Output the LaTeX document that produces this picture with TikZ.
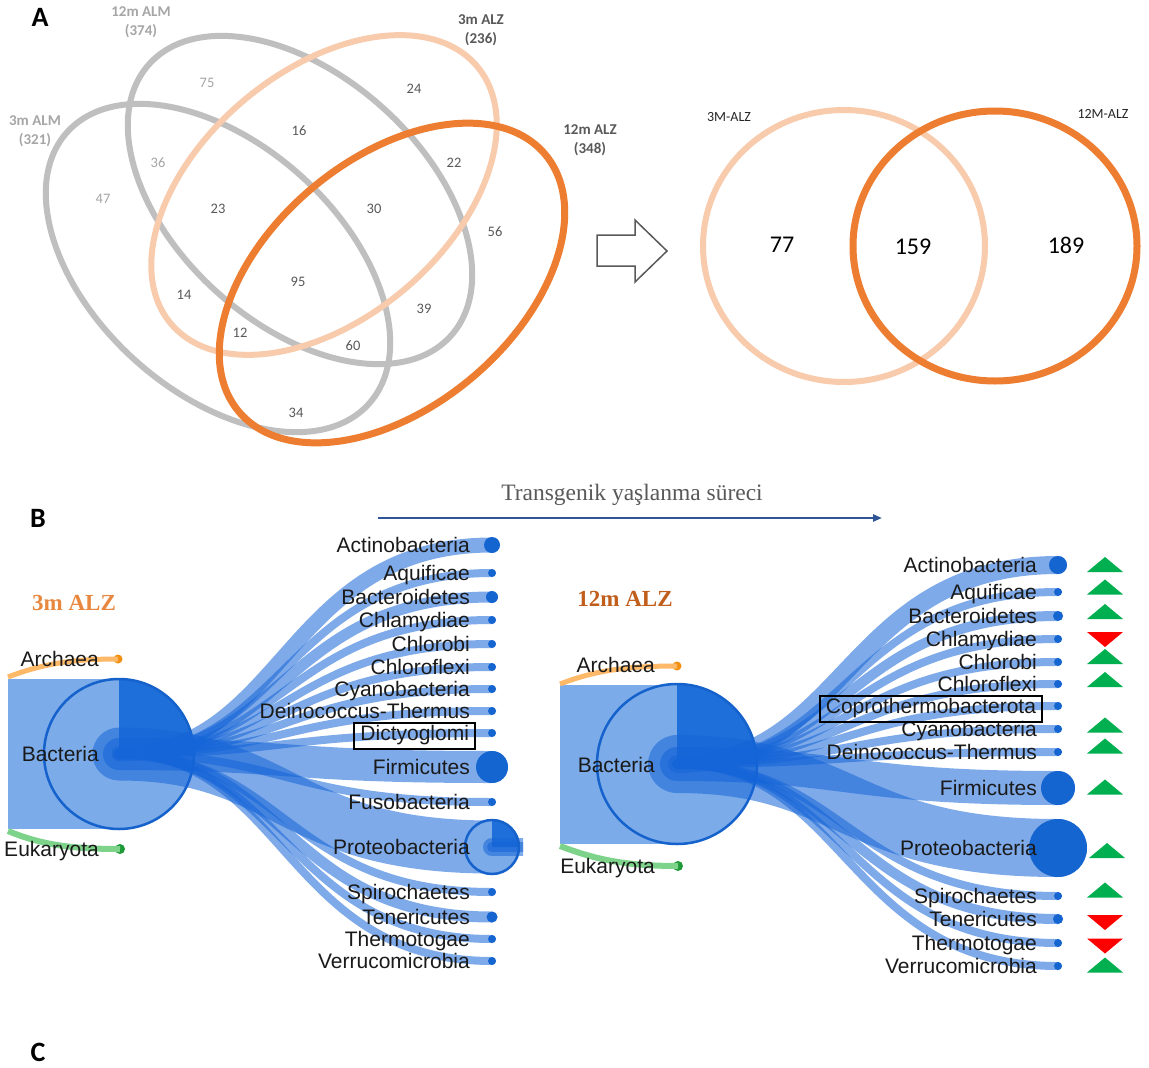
\documentclass[tikz,border=0pt]{standalone}
\usepackage{fontspec}
\setmainfont{Liberation Sans}
\newfontfamily\calfont{Carlito}
\newfontfamily\serfont{Liberation Serif}
\usetikzlibrary{arrows.meta}

\definecolor{ellgray}{HTML}{BFBFBF}
\definecolor{lightorange}{HTML}{F8CBAD}
\definecolor{darkorange}{HTML}{ED7D31}
\definecolor{numdark}{HTML}{595959}
\definecolor{numlight}{HTML}{A6A6A6}
\definecolor{linkblue}{HTML}{1565D8}
\definecolor{bandblue}{HTML}{7BABE9}
\definecolor{quartblue}{HTML}{1E6FD9}
\definecolor{rimblue}{HTML}{1562CC}
\definecolor{dotblue}{HTML}{1565D0}
\definecolor{archband}{HTML}{FDB868}
\definecolor{archfill}{HTML}{F39012}
\definecolor{eukband}{HTML}{7ED38A}
\definecolor{eukfill}{HTML}{1F9A38}
\definecolor{upgreen}{HTML}{00B050}
\definecolor{downred}{HTML}{FF0000}
\definecolor{arrowblue}{HTML}{2F5597}
\definecolor{titlegray}{HTML}{595959}
\definecolor{threeorange}{HTML}{E8873F}
\definecolor{twelveorange}{HTML}{C25E1B}
\definecolor{taxtext}{HTML}{1A1A1A}

% leaves of the 3-month tree: name/y/band width
\def\leavesL{aL/545/15, qL/573/8, bL/597/11, chL/620/8, coL/644/8, cfL/667/8,
  cyL/689/8, deL/711/8, diL/733/8, fiL/767/32, fuL/802/8, prL/847/53,
  spL/892/8, teL/917/11, thL/939/8, veL/961/8}
\def\dotsL{aL/16, qL/8, bL/12, chL/8, coL/8, cfL/8, cyL/8, deL/8, diL/8,
  fiL/32, fuL/8, spL/8, teL/11, thL/8, veL/8}
\def\labelsL{aL/Actinobacteria, qL/Aquificae, bL/Bacteroidetes, chL/Chlamydiae,
  coL/Chlorobi, cfL/Chloroflexi, cyL/Cyanobacteria, deL/Deinococcus-Thermus,
  fiL/Firmicutes, fuL/Fusobacteria, prL/Proteobacteria, spL/Spirochaetes,
  teL/Tenericutes, thL/Thermotogae, veL/Verrucomicrobia}

% leaves of the 12-month tree
\def\leavesR{aR/565/18, qR/592/8, bR/616/10, chR/639/8, coR/662/8, cfR/684/8,
  cpR/706/8, cyR/729/8, deR/752/8, fiR/788/34, prR/848/58, spR/896/8,
  teR/919/10, thR/943/8, veR/966/8}
\def\dotsR{aR/18, qR/8, bR/10, chR/8, coR/8, cfR/8, cpR/8, cyR/8, deR/8,
  fiR/34, prR/58, spR/8, teR/10, thR/8, veR/8}
\def\labelsR{aR/Actinobacteria, qR/Aquificae, bR/Bacteroidetes, chR/Chlamydiae,
  coR/Chlorobi, cfR/Chloroflexi, cyR/Cyanobacteria, deR/Deinococcus-Thermus,
  fiR/Firmicutes, prR/Proteobacteria, spR/Spirochaetes, teR/Tenericutes,
  thR/Thermotogae, veR/Verrucomicrobia}

\begin{document}
\begin{tikzpicture}[x=1pt, y=-1pt,
  vgray/.style={draw=ellgray, line width=6pt},
  vlight/.style={draw=lightorange, line width=6pt},
  vdark/.style={draw=darkorange, line width=7pt},
  vnum/.style={font=\calfont\fontsize{14.5}{16}\selectfont, text=numdark, inner sep=0},
  vnumlt/.style={vnum, text=numlight},
  vset/.style={font=\calfont\bfseries\fontsize{15}{19}\selectfont, align=center, inner sep=0},
  vbig/.style={font=\calfont\fontsize{24}{26}\selectfont, text=black, inner sep=0},
  vsmall/.style={font=\calfont\fontsize{14}{16}\selectfont, text=black!85, inner sep=0},
  panel/.style={font=\calfont\bfseries\fontsize{28}{30}\selectfont, inner sep=0},
  blockarrow/.style={draw=numdark, line width=1.5pt, fill=white, line join=miter},
  taxon/.style={font=\fontsize{21}{24}\selectfont, text=taxtext, anchor=base east,
    yshift=-7.5pt, inner sep=0, text height=15pt, text depth=0pt},
  boxed/.style={draw=black, line width=2pt, inner xsep=6pt, inner ysep=3pt,
    text height=15pt, text depth=5pt},
  grouptitle/.style={font=\serfont\bfseries\fontsize{23}{25}\selectfont, inner sep=0},
  link/.style={draw=linkblue, draw opacity=0.55, line cap=round},
  bactcirc/.style={circle, fill=bandblue, inner sep=0, outer sep=0},
  rim/.style={draw=rimblue, line width=2.5pt},
  leafdot/.style={circle, fill=dotblue, inner sep=0, outer sep=0},
  archdot/.style={circle, fill=archfill, minimum size=9pt, inner sep=0, outer sep=0},
  eukdot/.style={circle, fill=eukfill, minimum size=10pt, inner sep=0, outer sep=0},
  archlink/.style={draw=archband, line width=5pt},
  euklink/.style={draw=eukband, line width=6pt},
  triup/.style={fill=upgreen},
  tridown/.style={fill=downred}]

\useasboundingbox (0,0) rectangle (1149,1068);
\fill[white] (0,0) rectangle (1149,1068);

% ---------- panel letters ----------
\node[panel] (pA) at (40,17) {A};
\node[panel] (pB) at (38,518) {B};
\node[panel] (pC) at (38,1052) {C};

% ---------- four-set Venn diagram ----------
\draw[vgray, rotate around={-42:(218,268)}] (218,268) ellipse [x radius=203, y radius=124];
\draw[vgray, rotate around={-42:(300,200)}] (300,200) ellipse [x radius=203, y radius=124];
\draw[vlight, rotate around={40:(324,195)}] (324,195) ellipse [x radius=200, y radius=124];
\draw[vdark, rotate around={40:(392,283)}] (392,283) ellipse [x radius=200, y radius=124];

\node[vset, text=numlight] (s12alm) at (141,22.5) {12m ALM\\(374)};
\node[vset, text=numlight] (s3alm) at (35,131.5) {3m ALM\\(321)};
\node[vset, text=numdark] (s3alz) at (481,30.5) {3m ALZ\\(236)};
\node[vset, text=numdark] (s12alz) at (590,140.5) {12m ALZ\\(348)};

\node[vnumlt] (n75) at (207,83) {75};
\node[vnum] (n24) at (414,89) {24};
\node[vnum] (n16) at (299,131) {16};
\node[vnumlt] (n36) at (158,163) {36};
\node[vnum] (n22) at (454,163) {22};
\node[vnumlt] (n47) at (103,199) {47};
\node[vnum] (n23) at (218,209) {23};
\node[vnum] (n30) at (374,209) {30};
\node[vnum] (n56) at (495,232) {56};
\node[vnum] (n95) at (298,282) {95};
\node[vnum] (n14) at (184,295) {14};
\node[vnum] (n39) at (424,309) {39};
\node[vnum] (n12) at (240,333) {12};
\node[vnum] (n60) at (353,346) {60};
\node[vnum] (n34) at (296,413) {34};

% ---------- block arrow ----------
\draw[blockarrow] (597,235) -- (635,235) -- (635,220) -- (667,251) -- (635,282)
  -- (635,266) -- (597,266) -- cycle;

% ---------- two-set Venn diagram ----------
\draw[vlight] (844,246) ellipse [x radius=141, y radius=136];
\draw[vdark] (995,246) ellipse [x radius=142, y radius=135];
\node[vsmall] (t3) at (729,117) {3M-ALZ};
\node[vsmall] (t12) at (1103,114) {12M-ALZ};
\node[vbig] (n77) at (782,245) {77};
\node[vbig] (n159) at (913,247) {159};
\node[vbig] (n189) at (1066,245) {189};

% ---------- time arrow ----------
\node[font=\serfont\fontsize{23.5}{26}\selectfont, text=titlegray, inner sep=0]
  (ttl) at (632,495) {Transgenik yaşlanma süreci};
\coordinate (tA) at (378,518);
\coordinate (tB) at (882,518);
\draw[arrowblue, line width=2.2pt, -{Triangle[length=9pt, width=7pt]}] (tA) -- (tB);

\node[grouptitle, text=threeorange] (g3) at (74,603) {3m ALZ};
\node[grouptitle, text=twelveorange] (g12) at (625,599) {12m ALZ};

% ========== 3-month tree ==========
\fill[bandblue] (8,679) rectangle (119,829);
\coordinate (archL0) at (8,677);
\coordinate (eukL0) at (8,831);
\node[archdot] (archL) at (118,659) {};
\node[eukdot] (eukL) at (120,849) {};
\draw[archlink] (archL0) .. controls (42,664) and (72,659) .. (archL.center);
\draw[euklink] (eukL0) .. controls (42,845) and (72,849) .. (eukL.center);

\node[bactcirc, minimum size=150pt] (bacL) at (119,754) {};
\fill[quartblue] (bacL.center) -- (bacL.east) arc[start angle=0, end angle=-90, radius=75] -- cycle;
\draw[rim] (bacL.center) circle[radius=75];

\coordinate (midL) at (285,754);
\foreach \nm/\yy/\ww in \leavesL {
  \coordinate (\nm) at (492,\yy);
}
\foreach \nm/\yy/\ww in \leavesL {
  \draw[link, line width=\ww pt] (bacL.center) .. controls (midL |- bacL.center)
    and (midL |- \nm) .. (\nm);
}
\foreach \nm/\dd in \dotsL {
  \node[leafdot, minimum size=\dd pt] (\nm-dot) at (\nm) {};
}
% expanded Proteobacteria node
\fill[bandblue] (prL) circle[radius=27];
\fill[quartblue] (prL) -- ++(27,0) arc[start angle=0, end angle=-90, radius=27] -- cycle;
\begin{scope}
  \clip (470,820) rectangle (523,875);
  \coordinate (prLout) at (540,847);
  \draw[link, line width=18pt] (prL) -- (prLout);
  \draw[link, line width=10pt] (prL) -- (prLout);
\end{scope}
\draw[rim] (prL) circle[radius=27];

\foreach \nm/\txt in \labelsL {
  \node[taxon] (\nm-lbl) at ([xshift=-22pt]\nm) {\txt};
}
\node[taxon, boxed] (diL-lbl) at ([xshift=-16pt]diL) {Dictyoglomi};
\node[taxon] (bacL-lbl) at (99,754) {Bacteria};
\node[taxon] (archL-lbl) at (99,659) {Archaea};
\node[taxon] (eukL-lbl) at (99,849) {Eukaryota};

% ========== 12-month tree ==========
\fill[bandblue] (560,685) rectangle (677,844);
\coordinate (archR0) at (560,684);
\coordinate (eukR0) at (560,846);
\node[archdot] (archR) at (677,666) {};
\node[eukdot] (eukR) at (678,866) {};
\draw[archlink] (archR0) .. controls (594,671) and (624,666) .. (archR.center);
\draw[euklink] (eukR0) .. controls (594,859) and (624,866) .. (eukR.center);

\node[bactcirc, minimum size=160pt] (bacR) at (677,764) {};
\fill[quartblue] (bacR.center) -- (bacR.east) arc[start angle=0, end angle=-90, radius=80] -- cycle;
\draw[rim] (bacR.center) circle[radius=80];

\coordinate (midR) at (847,764);
\foreach \nm/\yy/\ww in \leavesR {
  \coordinate (\nm) at (1058,\yy);
}
\foreach \nm/\yy/\ww in \leavesR {
  \draw[link, line width=\ww pt] (bacR.center) .. controls (midR |- bacR.center)
    and (midR |- \nm) .. (\nm);
}
\foreach \nm/\dd in \dotsR {
  \node[leafdot, minimum size=\dd pt] (\nm-dot) at (\nm) {};
}
\foreach \nm/\txt in \labelsR {
  \node[taxon] (\nm-lbl) at ([xshift=-21pt]\nm) {\txt};
}
\node[taxon, boxed] (cpR-lbl) at ([xshift=-15pt]cpR) {Coprothermobacterota};
\node[taxon] (bacR-lbl) at (655,765) {Bacteria};
\node[taxon] (archR-lbl) at (655,665) {Archaea};
\node[taxon] (eukR-lbl) at (655,866) {Eukaryota};

% change markers, 3 -> 12 months
\foreach \yy in {564.5, 587, 611.5, 656.5, 679.5, 725, 746, 787, 890, 965} {
  \fill[triup, shift={(1105,\yy)}] (-18,7.5) -- (18,7.5) -- (0,-7.5) -- cycle;
}
\fill[triup, shift={(1107,850.5)}] (-18,7.5) -- (18,7.5) -- (0,-7.5) -- cycle;
\foreach \yy in {639.5, 922.5, 946} {
  \fill[tridown, shift={(1105,\yy)}] (-18,-7.5) -- (18,-7.5) -- (0,7.5) -- cycle;
}
\end{tikzpicture}
\end{document}
